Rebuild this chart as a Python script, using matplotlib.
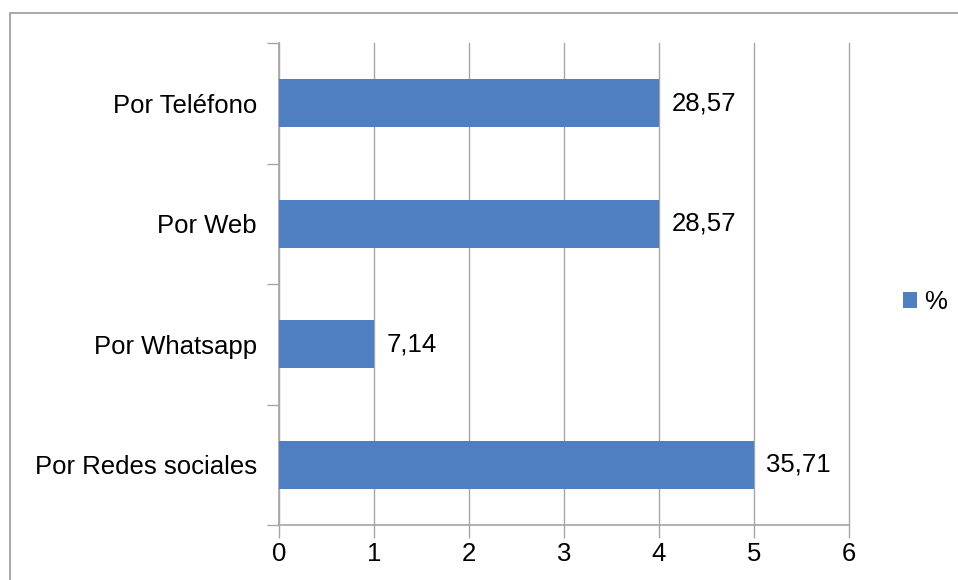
import matplotlib.pyplot as plt
from matplotlib.patches import Rectangle

# --- DONNÉES ---
categorias = ['Por Redes sociales', 'Por Whatsapp', 'Por Web', 'Por Teléfono']
valores = [5, 1, 4, 4]
etiquetas = ['35,71', '7,14', '28,57', '28,57']
ticks_x = [0, 1, 2, 3, 4, 5, 6]

plt.rcParams['font.family'] = ['Liberation Sans', 'DejaVu Sans']

fig = plt.figure(figsize=(9.58, 5.8), dpi=100)
ax = fig.add_axes([279 / 958, 1 - 525 / 580, 570 / 958, 482 / 580])

color_barra = '#4F7EC1'
gris = '#A6A6A6'

pos = list(range(len(categorias)))
barras = ax.barh(pos, valores, height=0.4, color=color_barra, zorder=3,
                 label='%')

for p, v, t in zip(pos, valores, etiquetas):
    ax.text(v + 0.13, p, t, va='center', ha='left', fontsize=18.5, zorder=4)

ax.set_xlim(0, 6)
ax.set_ylim(-0.5, len(categorias) - 0.5)
ax.set_xticks(ticks_x)
ax.set_xticklabels([str(t) for t in ticks_x], fontsize=18.5)
ax.set_yticks(pos)
ax.set_yticklabels(categorias, fontsize=18.5)
ax.tick_params(axis='y', length=0, pad=16)
ax.set_yticks([p - 0.5 for p in range(len(categorias) + 1)], minor=True)
ax.tick_params(axis='y', which='minor', length=9, color=gris, width=1)
ax.tick_params(axis='x', length=9, color=gris, width=1, pad=3)

ax.grid(True, axis='x', color=gris, linewidth=1, zorder=0)
for g in ax.xaxis.get_gridlines():
    g.set_clip_on(False)
for s in ['top', 'right']:
    ax.spines[s].set_visible(False)
for s in ['left', 'bottom']:
    ax.spines[s].set_color(gris)
    ax.spines[s].set_linewidth(1.2)

leg = fig.legend(handles=[barras], labels=['%'], loc='center left',
                 bbox_to_anchor=(880 / 958, 1 - 302 / 580), frameon=False,
                 fontsize=18.5, handlelength=0.55, handleheight=0.55,
                 handletextpad=0.25)

# Cadre du graphique
cadre = Rectangle((10 / 958, -0.05), 1.0, 1 - 13 / 580 + 0.05,
                  transform=fig.transFigure, fill=False,
                  edgecolor='#9A9A9A', linewidth=1.2)
fig.patches.append(cadre)

fig.savefig('out.png', dpi=100)
